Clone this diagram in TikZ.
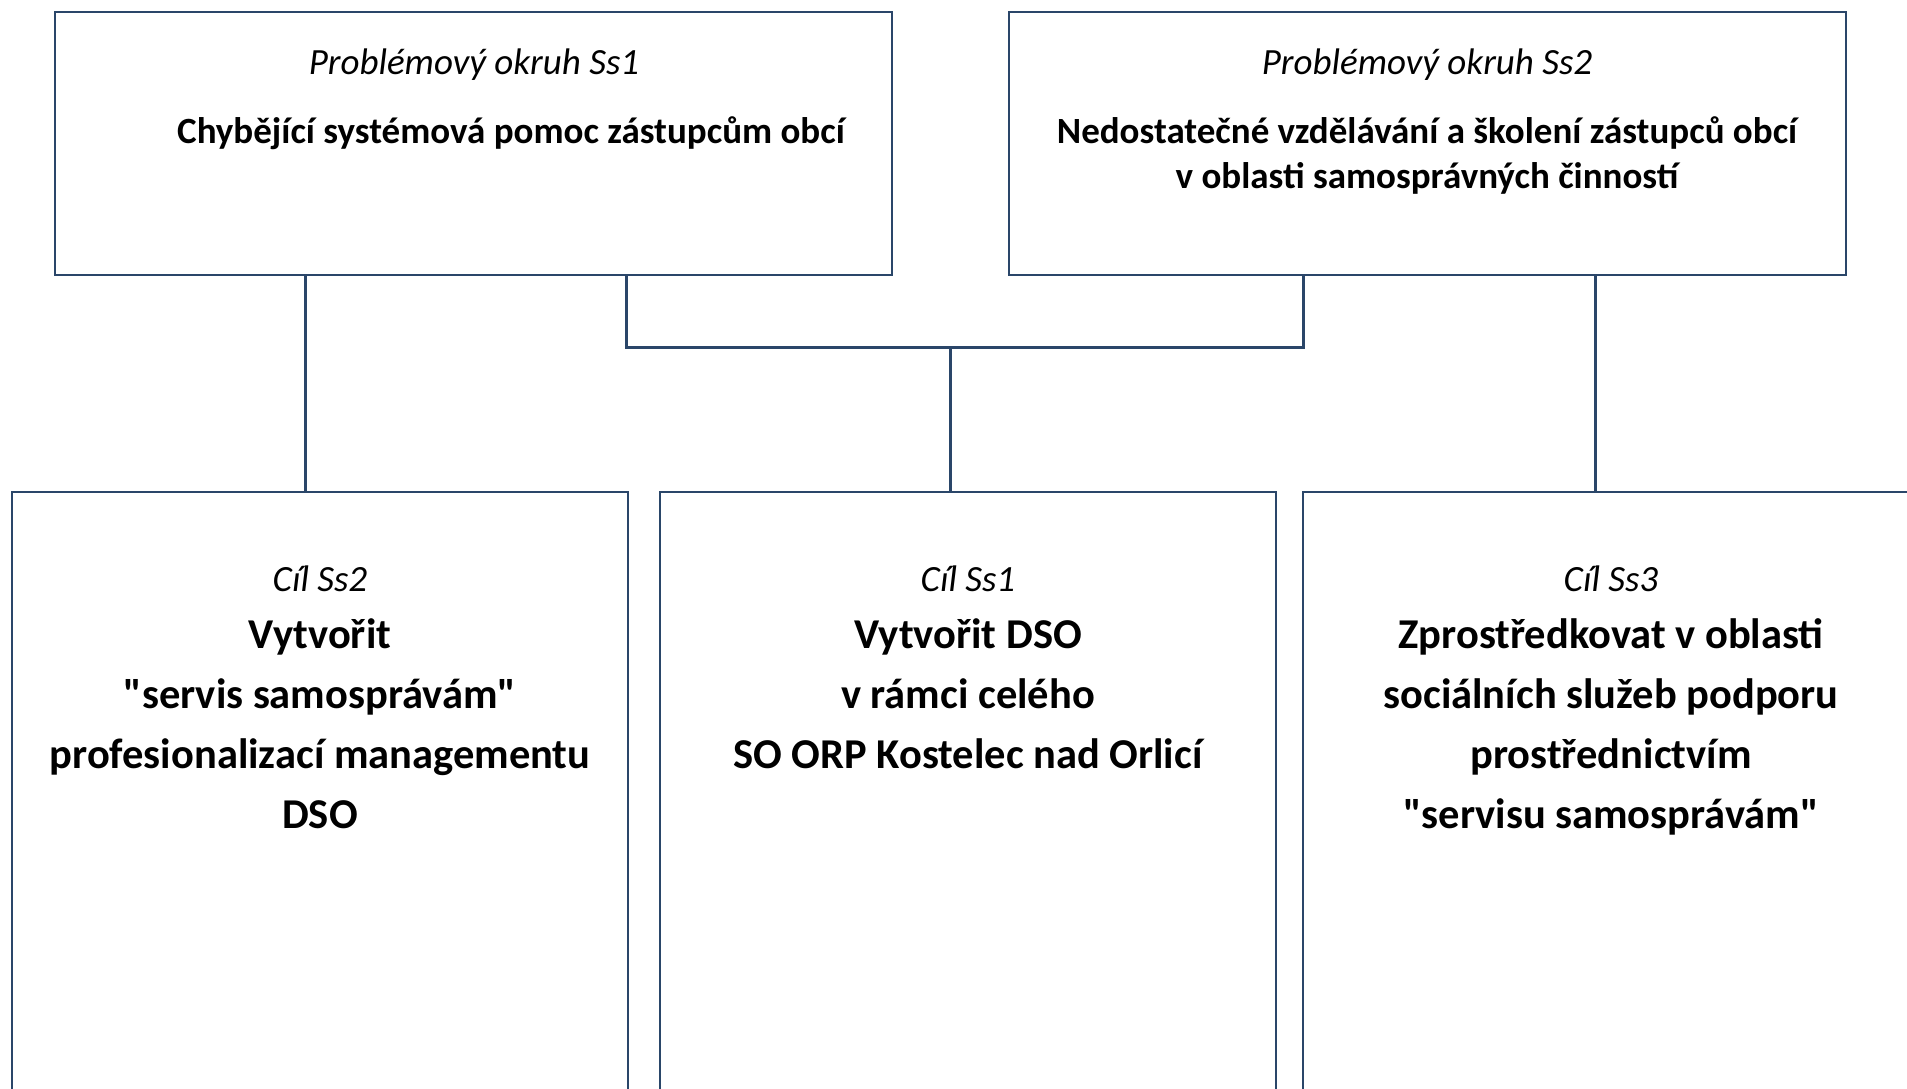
\documentclass[tikz,border=0pt]{standalone}
\usepackage{fontspec}
\setmainfont{Carlito}[Ligatures=TeXOff]
\definecolor{navy}{HTML}{2A4669}
\begin{document}
\begin{tikzpicture}[x=1pt,y=-1pt,
  box/.style={draw=navy,line width=2pt,inner sep=0pt,outer sep=0pt,fill=white},
  conn/.style={draw=navy,line width=3pt},
  ital/.style={font=\fontsize{37}{45}\selectfont\itshape,inner sep=0pt,anchor=base},
  tbld/.style={font=\fontsize{37}{45}\selectfont\bfseries,inner sep=0pt,anchor=base},
  bbld/.style={font=\fontsize{42.5}{60}\selectfont\bfseries,inner sep=0pt,anchor=base}]
\clip (0,0) rectangle (1907,1088);
\useasboundingbox (0,0) rectangle (1907,1088);
\fill[white] (0,0) rectangle (1907,1088);
% boxes
\node[box,minimum width=837pt,minimum height=263pt] (p1) at (473.5,143.5) {};
\node[box,minimum width=837pt,minimum height=263pt] (p2) at (1427.5,143.5) {};
\node[box,minimum width=616pt,minimum height=640pt] (g2) at (320,812) {};
\node[box,minimum width=616pt,minimum height=640pt] (g1) at (968,812) {};
\node[box,minimum width=616pt,minimum height=640pt] (g3) at (1611,812) {};
% connector helper coordinates
\coordinate (xa) at (305,0);
\coordinate (xb) at (626,0);
\coordinate (xc) at (1303,0);
\coordinate (xm) at (950,0);
\coordinate (xd) at (1595,0);
\coordinate (hy) at (0,347);
\draw[conn] (p1.south -| xa) -- (g2.north -| xa);
\draw[conn] (p1.south -| xb) -- (xb |- hy) -- (xc |- hy) -- (p2.south -| xc);
\draw[conn] (xm |- hy) -- (g1.north -| xm);
\draw[conn] (p2.south -| xd) -- (g3.north -| xd);
% texts top
\node[ital] (p1a) at (474,74) {Problémový okruh Ss1};
\node[tbld] (p1b) at (511,143) {Chybějící systémová pomoc zástupcům obcí};
\node[ital] (p2a) at (1427,74) {Problémový okruh Ss2};
\node[tbld] (p2b) at (1427,143) {Nedostatečné vzdělávání a školení zástupců obcí};
\node[tbld] (p2c) at (1427,188) {v oblasti samosprávných činností};
% texts bottom
\node[ital] (g2a) at (320,591) {Cíl Ss2};
\node[bbld] (g2b) at (320,648) {Vytvořit};
\node[bbld] (g2c) at (320,708) {"servis samosprávám"};
\node[bbld] (g2d) at (320,768) {profesionalizací managementu};
\node[bbld] (g2e) at (320,828) {DSO};
\node[ital] (g1a) at (968,591) {Cíl Ss1};
\node[bbld] (g1b) at (968,648) {Vytvořit DSO};
\node[bbld] (g1c) at (968,708) {v rámci celého};
\node[bbld] (g1d) at (968,768) {SO ORP Kostelec nad Orlicí};
\node[ital] (g3a) at (1611,591) {Cíl Ss3};
\node[bbld] (g3b) at (1611,648) {Zprostředkovat v oblasti};
\node[bbld] (g3c) at (1611,708) {sociálních služeb podporu};
\node[bbld] (g3d) at (1611,768) {prostřednictvím};
\node[bbld] (g3e) at (1611,828) {"servisu samosprávám"};
\end{tikzpicture}
\end{document}
